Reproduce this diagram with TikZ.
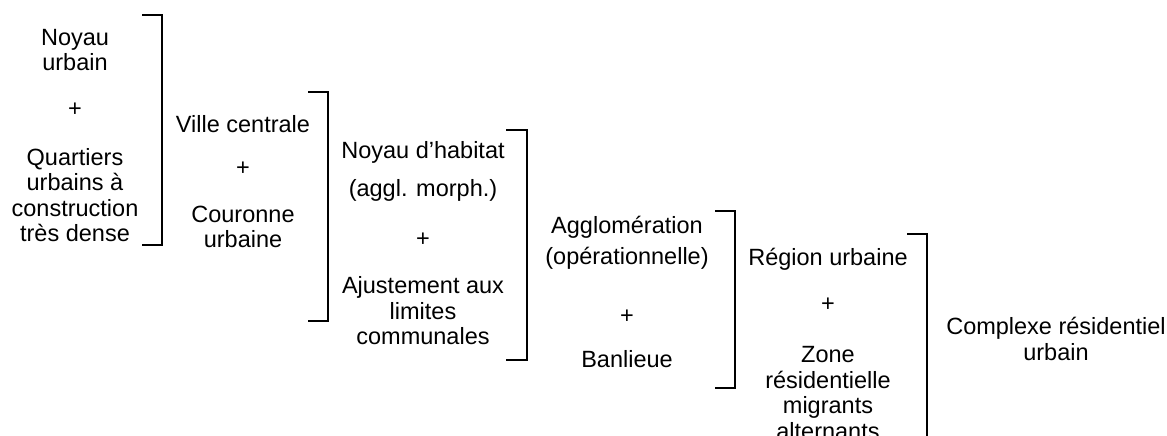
\documentclass[tikz,border=0pt]{standalone}
\usepackage{fontspec}
\setmainfont{Liberation Sans}
\begin{document}
\begin{tikzpicture}[x=1pt,y=-1pt,
  txt/.style={inner sep=0pt, align=center, font=\fontsize{23.5}{25.5}\selectfont},
  brk/.style={draw=black, line width=2pt, line cap=butt, line join=miter}]
\clip (0,0) rectangle (1167,436);
% block 1
\node[txt] (a1) at (75,50) {Noyau\\urbain};
\node[txt] (a2) at (75,110) {+};
\node[txt] (a3) at (75,195) {Quartiers\\urbains à\\construction\\très dense};
\draw[brk] (142,15) -- (162,15) -- (162,245) -- (142,245);
% block 2
\node[txt] (b1) at (243,124) {Ville centrale};
\node[txt] (b2) at (243,169) {+};
\node[txt] (b3) at (243,227) {Couronne\\urbaine};
\draw[brk] (308,92) -- (328,92) -- (328,321) -- (308,321);
% block 3
\node[txt] (c1) at (423,152) {Noyau d’habitat};
\node[txt] (c2) at (423,190) {(aggl. morph.)};
\node[txt] (c3) at (423,240) {+};
\node[txt] (c4) at (423,311) {Ajustement aux\\limites\\communales};
\draw[brk] (506,130) -- (527,130) -- (527,360) -- (506,360);
% block 4
\node[txt] (d1) at (627,227) {Agglomération};
\node[txt] (d2) at (627,258) {(opérationnelle)};
\node[txt] (d3) at (627,317) {+};
\node[txt] (d4) at (627,359) {Banlieue};
\draw[brk] (715,211) -- (735,211) -- (735,388) -- (715,388);
% block 5
\node[txt] (e1) at (828,259) {Région urbaine};
\node[txt] (e2) at (828,305) {+};
\node[txt] (e3) at (828,393) {Zone\\résidentielle\\migrants\\alternants};
\draw[brk] (907,234) -- (927,234) -- (927,440);
% block 6
\node[txt] (f1) at (1056,339) {Complexe résidentiel\\urbain};
\end{tikzpicture}
\end{document}
